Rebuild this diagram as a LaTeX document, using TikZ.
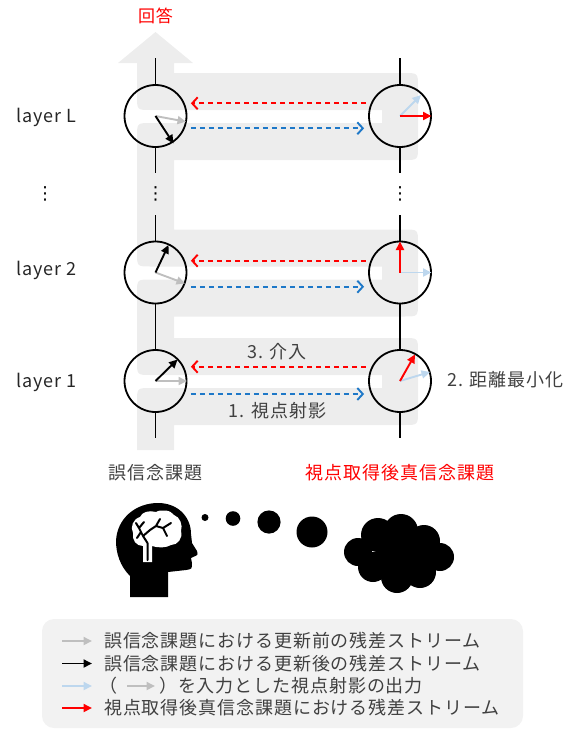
\documentclass[tikz,border=0pt]{standalone}
\usepackage{fontspec}
\setmainfont{Noto Sans CJK JP}[LetterSpace=5]
\newfontfamily\symfont{DejaVu Sans}
\usetikzlibrary{arrows.meta,calc}

\definecolor{band}{RGB}{237,237,237}
\definecolor{legbg}{RGB}{242,242,242}
\definecolor{txt}{RGB}{64,64,64}
\definecolor{pregray}{RGB}{191,191,191}
\definecolor{projblue}{RGB}{189,215,238}
\definecolor{dashblue}{RGB}{30,120,200}
\definecolor{hred}{RGB}{255,0,0}

\tikzset{
  unit/.style={circle, draw, line width=1.8pt, minimum size=62pt, inner sep=0pt},
  wire/.style={line width=1.8pt, black},
  vec/.style={line width=1.9pt, -{Triangle[length=8.5pt,width=8pt]}},
  dasharrow/.style={line width=1.9pt, dash pattern=on 5.5pt off 3.5pt,
    -{Straight Barb[length=5.5pt,width=12pt,line width=1.9pt]}},
  lbl/.style={font=\fontsize{18}{20}\selectfont, text=txt, inner sep=0pt},
  vdots/.style={font=\symfont\fontsize{18}{20}\selectfont, inner sep=0pt},
  legarrow/.style={line width=1.9pt, -{Triangle[length=8.5pt,width=8pt]}}
}

\begin{document}
\begin{tikzpicture}[x=1pt,y=-1pt]
\useasboundingbox (0,0) rectangle (571,729);

% residual stream band, winding through every layer
\fill[band]
 (137,450)
 -- (137,402) .. controls (137,388) .. (151,388)
 -- (382,388) -- (382,375)
 -- (151,375) .. controls (137,375) .. (137,361)
 -- (137,293.5) .. controls (137,279.5) .. (151,279.5)
 -- (382,279.5) -- (382,266.5)
 -- (151,266.5) .. controls (137,266.5) .. (137,252.5)
 -- (137,137) .. controls (137,123) .. (151,123)
 -- (382,123) -- (382,110)
 -- (151,110) .. controls (137,110) .. (137,96)
 -- (137,63) -- (118,63) -- (155.5,32) -- (193,63) -- (174,63)
 -- (174,73) -- (404,73) .. controls (418,73) .. (418,87)
 -- (418,146) .. controls (418,160) .. (404,160)
 -- (174,160) -- (174,229.5)
 -- (404,229.5) .. controls (418,229.5) .. (418,243.5)
 -- (418,302.5) .. controls (418,316.5) .. (404,316.5)
 -- (174,316.5) -- (174,338)
 -- (404,338) .. controls (418,338) .. (418,352)
 -- (418,411) .. controls (418,425) .. (404,425)
 -- (174,425) -- (174,450) -- cycle;

% answer label
\node[font=\fontsize{17}{19}\selectfont, text=hred, inner sep=0pt] (ans) at (155.5,16) {回答};

% layer units
\node[unit] (lL) at (155.5,116) {};
\node[unit] (rL) at (400,116) {};
\node[unit] (l2) at (155.5,272.5) {};
\node[unit] (r2) at (400,272.5) {};
\node[unit] (l1) at (155.5,381) {};
\node[unit] (r1) at (400,381) {};

% vertical wiring
\coordinate (ltop) at (155.5,58);
\coordinate (rtop) at (400,58);
\coordinate (lgapA) at (155.5,173);
\coordinate (lgapB) at (155.5,215);
\coordinate (rgapA) at (400,173);
\coordinate (rgapB) at (400,215);
\coordinate (lbot) at (155.5,438);
\coordinate (rbot) at (400,438);
\draw[wire] (ltop) -- (lL);
\draw[wire] (rtop) -- (rL);
\draw[wire] (lL) -- (lgapA);
\draw[wire] (rL) -- (rgapA);
\draw[wire] (lgapB) -- (l2);
\draw[wire] (rgapB) -- (r2);
\draw[wire] (l2) -- (l1);
\draw[wire] (r2) -- (r1);
\draw[wire] (l1) -- (lbot);
\draw[wire] (r1) -- (rbot);
\node[vdots] (ldots) at (155.5,194) {⋮};
\node[vdots] (rdots) at (400,194) {⋮};
\node[vdots] (sdots) at (45,194) {⋮};

% layer names
\node[lbl, anchor=base west, text=black!85] (nameL) at (16,122) {layer L};
\node[lbl, anchor=base west, text=black!85] (name2) at (16,275) {layer 2};
\node[lbl, anchor=base west, text=black!85] (name1) at (16,387) {layer 1};

% residual vectors, layer L
\draw[vec, pregray] (lL.center) -- ++(30.5,5.7);
\draw[vec, black] (lL.center) -- ++(18,27.5);
\draw[vec, projblue] (rL.center) -- ++(21,-21);
\draw[vec, hred] (rL.center) -- ++(31.5,0);
% layer 2
\draw[vec, pregray] (l2.center) -- ++(29.5,11);
\draw[vec, black] (l2.center) -- ++(13,-27.5);
\draw[vec, projblue] (r2.center) -- ++(31.5,0);
\draw[vec, hred] (r2.center) -- ++(0,-31);
% layer 1
\draw[vec, pregray] (l1.center) -- ++(31.5,0);
\draw[vec, black] (l1.center) -- ++(22,-21.5);
\draw[vec, projblue] (r1.center) -- ++(30,-9);
\draw[vec, hred] (r1.center) -- ++(15,-26.5);

% projection (blue) and intervention (red)
\draw[dasharrow, hred] ([xshift=-2pt,yshift=12.7pt]rL.west) -- ([xshift=3.5pt,yshift=12.7pt]lL.east);
\draw[dasharrow, dashblue] ([xshift=3.5pt,yshift=-12.3pt]lL.east) -- ([xshift=-4pt,yshift=-12.3pt]rL.west);
\draw[dasharrow, hred] ([xshift=-2pt,yshift=11.8pt]r2.west) -- ([xshift=3.5pt,yshift=11.8pt]l2.east);
\draw[dasharrow, dashblue] ([xshift=3.5pt,yshift=-14.2pt]l2.east) -- ([xshift=-4pt,yshift=-14.2pt]r2.west);
\draw[dasharrow, hred] ([xshift=-2pt,yshift=14.3pt]r1.west) -- ([xshift=3.5pt,yshift=14.3pt]l1.east);
\draw[dasharrow, dashblue] ([xshift=3.5pt,yshift=-13pt]l1.east) -- ([xshift=-4pt,yshift=-13pt]r1.west);

\node[lbl] (step3) at (277,352) {3. 介入};
\node[lbl] (step1) at (277.5,411) {1. 視点射影};
\node[lbl, anchor=west] (step2) at (447,380) {2. 距離最小化};

% task names
\node[lbl] (fb) at (155.5,473) {誤信念課題};
\node[lbl, text=hred] (tb) at (400,473) {視点取得後真信念課題};

% head with brain
\fill[black] (130,597) -- (130,576)
  .. controls (120,566) and (116,553) .. (116,541)
  .. controls (117,518) and (136,503) .. (158,503)
  .. controls (178,503) and (191,517) .. (191,534)
  -- (192,543) -- (197,551)
  .. controls (198,555) .. (193,557)
  -- (191,558) -- (192,563)
  .. controls (192,569) .. (186,570)
  -- (168,572) -- (168,597) -- cycle;
\fill[white] (143,562) -- (143,546)
  .. controls (136,546) and (132,540) .. (133,533)
  .. controls (130,527) and (133,519) .. (140,517)
  .. controls (142,512) and (149,510) .. (156,512)
  .. controls (161,509) and (171,510) .. (174,515)
  .. controls (180,517) and (183,525) .. (181,531)
  .. controls (183,538) and (178,545) .. (171,545)
  .. controls (166,548) and (158,548) .. (152,546)
  -- (152,562) -- cycle;
\draw[black, line width=2pt, line cap=round, line join=round]
  (147.5,560) -- (147.5,543) -- (143,536) -- (139,528) -- (136,523)
  (139,528) -- (144,522)
  (143,536) -- (150,530) -- (156,526) -- (160,519)
  (156,526) -- (163,528) -- (171,523)
  (163,528) -- (167,536)
  (141,532) -- (137,538);

% thought bubbles
\fill[black] (205,517.5) circle (3.5);
\fill[black] (233,518.5) circle (7.3);
\fill[black] (269,522) circle (11.6);
\fill[black] (312,532) circle (15.5);

% cloud
\fill[black] (358,552) circle (14) (378,535) circle (17) (401,531) circle (17)
  (424,541) circle (16) (440,557) circle (14) (420,572) circle (16)
  (397,577) circle (16) (373,567) circle (15) (400,555) circle (25);

% legend
\fill[legbg, rounded corners=12pt] (42,619) rectangle (523,728);
\coordinate (k1s) at (62,641);   \coordinate (k1e) at (92,641);
\coordinate (k2s) at (62,663.5); \coordinate (k2e) at (92,663.5);
\coordinate (k3s) at (62,686);   \coordinate (k3e) at (92,686);
\coordinate (k4s) at (62,708);   \coordinate (k4e) at (92,708);
\coordinate (k3is) at (127,686); \coordinate (k3ie) at (155,686);
\draw[legarrow, pregray] (k1s) -- (k1e);
\draw[legarrow, black] (k2s) -- (k2e);
\draw[legarrow, projblue] (k3s) -- (k3e);
\draw[legarrow, hred] (k4s) -- (k4e);
\draw[legarrow, pregray] (k3is) -- (k3ie);
\node[lbl, anchor=west] (t1) at (104,641) {誤信念課題における更新前の残差ストリーム};
\node[lbl, anchor=west] (t2) at (104,663.5) {誤信念課題における更新後の残差ストリーム};
\node[lbl, anchor=west] (t3a) at (99,686) {（};
\node[lbl, anchor=west] (t3b) at (159,686) {）を入力とした視点射影の出力};
\node[lbl, anchor=west] (t4) at (104,708) {視点取得後真信念課題における残差ストリーム};
\end{tikzpicture}
\end{document}
